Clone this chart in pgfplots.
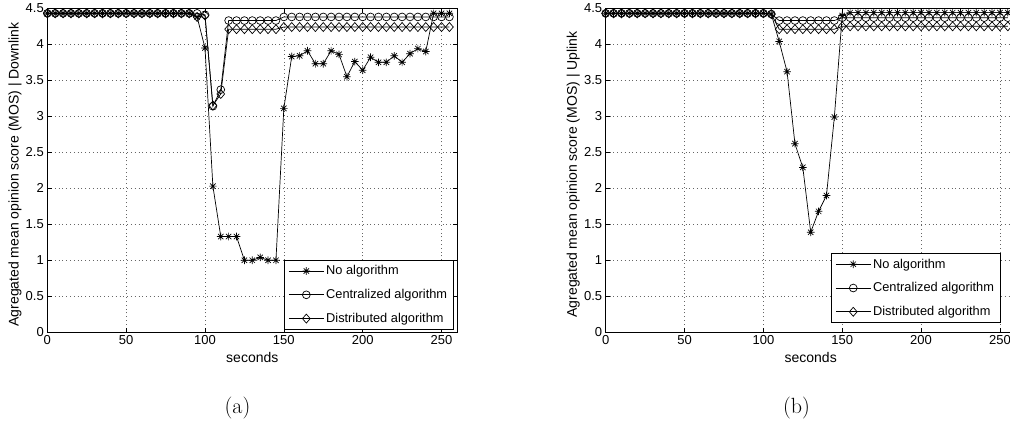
\documentclass[border=0pt]{standalone}
\usepackage{fontspec}
\usepackage{pgfplots}
\usepackage{pgfplotstable}
\pgfplotsset{compat=1.18}
\newfontfamily\arial{Liberation Sans}

% eight-spoke asterisk and square-proportioned diamond
\pgfdeclareplotmark{mstar}{%
  \pgfpathmoveto{\pgfpoint{-\pgfplotmarksize}{0pt}}\pgfpathlineto{\pgfpoint{\pgfplotmarksize}{0pt}}%
  \pgfpathmoveto{\pgfpoint{0pt}{-\pgfplotmarksize}}\pgfpathlineto{\pgfpoint{0pt}{\pgfplotmarksize}}%
  \pgfpathmoveto{\pgfpoint{-0.707\pgfplotmarksize}{-0.707\pgfplotmarksize}}\pgfpathlineto{\pgfpoint{0.707\pgfplotmarksize}{0.707\pgfplotmarksize}}%
  \pgfpathmoveto{\pgfpoint{-0.707\pgfplotmarksize}{0.707\pgfplotmarksize}}\pgfpathlineto{\pgfpoint{0.707\pgfplotmarksize}{-0.707\pgfplotmarksize}}%
  \pgfusepathqstroke}
\pgfdeclareplotmark{mdiam}{%
  \pgfpathmoveto{\pgfpoint{0pt}{1.15\pgfplotmarksize}}\pgfpathlineto{\pgfpoint{\pgfplotmarksize}{0pt}}%
  \pgfpathlineto{\pgfpoint{0pt}{-1.15\pgfplotmarksize}}\pgfpathlineto{\pgfpoint{-\pgfplotmarksize}{0pt}}%
  \pgfpathclose\pgfusepathqstroke}

% Downlink
\pgfplotstableread{
x noalg cent dist
0 4.43 4.43 4.43
5 4.43 4.43 4.43
10 4.43 4.43 4.43
15 4.43 4.43 4.43
20 4.43 4.43 4.43
25 4.43 4.43 4.43
30 4.43 4.43 4.43
35 4.43 4.43 4.43
40 4.43 4.43 4.43
45 4.43 4.43 4.43
50 4.43 4.43 4.43
55 4.43 4.43 4.43
60 4.43 4.43 4.43
65 4.43 4.43 4.43
70 4.43 4.43 4.43
75 4.43 4.43 4.43
80 4.43 4.43 4.43
85 4.43 4.43 4.43
90 4.43 4.43 4.43
95 4.38 4.43 4.38
100 3.95 4.41 4.40
105 2.03 3.14 3.15
110 1.33 3.37 3.31
115 1.33 4.33 4.21
120 1.33 4.33 4.21
125 1.00 4.33 4.21
130 1.00 4.33 4.21
135 1.04 4.33 4.21
140 1.00 4.33 4.21
145 1.00 4.33 4.21
150 3.11 4.38 4.24
155 3.83 4.38 4.24
160 3.84 4.38 4.24
165 3.91 4.38 4.24
170 3.73 4.38 4.24
175 3.73 4.38 4.24
180 3.91 4.38 4.24
185 3.86 4.38 4.24
190 3.55 4.38 4.24
195 3.76 4.38 4.24
200 3.64 4.38 4.24
205 3.82 4.38 4.24
210 3.75 4.38 4.24
215 3.75 4.38 4.24
220 3.84 4.38 4.24
225 3.75 4.38 4.24
230 3.87 4.38 4.24
235 3.94 4.38 4.24
240 3.90 4.38 4.24
245 4.43 4.38 4.24
250 4.43 4.38 4.24
255 4.43 4.38 4.24
}\downlink

% Uplink
\pgfplotstableread{
x noalg cent dist
0 4.43 4.43 4.43
5 4.43 4.43 4.43
10 4.43 4.43 4.43
15 4.43 4.43 4.43
20 4.43 4.43 4.43
25 4.43 4.43 4.43
30 4.43 4.43 4.43
35 4.43 4.43 4.43
40 4.43 4.43 4.43
45 4.43 4.43 4.43
50 4.43 4.43 4.43
55 4.43 4.43 4.43
60 4.43 4.43 4.43
65 4.43 4.43 4.43
70 4.43 4.43 4.43
75 4.43 4.43 4.43
80 4.43 4.43 4.43
85 4.43 4.43 4.43
90 4.43 4.43 4.43
95 4.43 4.43 4.43
100 4.43 4.43 4.43
105 4.42 4.42 4.42
110 4.04 4.33 4.21
115 3.62 4.33 4.21
120 2.62 4.33 4.21
125 2.29 4.33 4.21
130 1.39 4.33 4.21
135 1.68 4.33 4.21
140 1.90 4.33 4.21
145 2.99 4.33 4.21
150 4.40 4.37 4.25
155 4.44 4.37 4.25
160 4.44 4.37 4.25
165 4.44 4.37 4.25
170 4.44 4.37 4.25
175 4.44 4.37 4.25
180 4.44 4.37 4.25
185 4.44 4.37 4.25
190 4.44 4.37 4.25
195 4.44 4.37 4.25
200 4.44 4.37 4.25
205 4.44 4.37 4.25
210 4.44 4.37 4.25
215 4.44 4.37 4.25
220 4.44 4.37 4.25
225 4.44 4.37 4.25
230 4.44 4.37 4.25
235 4.44 4.37 4.25
240 4.44 4.37 4.25
245 4.44 4.37 4.25
250 4.44 4.37 4.25
255 4.44 4.37 4.25
}\uplink

\pgfplotsset{
  mos/.style={
    scale only axis, width=410pt, height=324pt,
    xmin=0, xmax=260, ymin=0, ymax=4.5,
    xtick={0,50,100,150,200,250},
    ytick={0,0.5,1,1.5,2,2.5,3,3.5,4,4.5},
    grid=major,
    major grid style={black!60, line width=0.5pt, dash pattern=on 0.8pt off 3pt},
    tick align=inside, major tick length=4.5pt,
    tick style={black, line width=0.6pt},
    axis line style={black, line width=0.9pt},
    tick label style={font=\arial\fontsize{13}{15}\selectfont},
    /pgf/number format/assume math mode=true,
    label style={font=\arial\fontsize{14}{16}\selectfont},
    xlabel={seconds},
    x label style={at={(axis description cs:0.5,-0.0775)}, anchor=center},
    y label style={at={(axis description cs:-0.0788,0.487)}, anchor=center},
    legend cell align=left,
    legend style={draw=black, line width=0.8pt, fill=white,
      font=\arial\fontsize{12.8}{14}\selectfont,
      inner xsep=4.5pt, inner ysep=3pt, row sep=9pt},
    legend image code/.code={%
      \draw[mark repeat=2, mark phase=2, #1]
        plot coordinates {(0pt,0pt) (17.5pt,0pt) (35pt,0pt)};},
    every axis plot/.append style={black, line width=0.7pt,
      mark options={solid, line width=0.7pt}},
  },
  noalg/.style={mark=mstar, mark size=3.8pt},
  cent/.style={mark=o, mark size=3.9pt},
  dist/.style={mark=mdiam, mark size=3.9pt},
}

\begin{document}
\begin{tikzpicture}
\begin{axis}[mos, at={(47.3pt,90.7pt)}, anchor=south west,
  ylabel={Agregated mean opinion score (MOS) | Downlink},
  legend style={at={(0.992,0.009)}, anchor=south east}]
\addplot[noalg] table[x=x, y=noalg] {\downlink};
\addplot[cent] table[x=x, y=cent] {\downlink};
\addplot[dist] table[x=x, y=dist] {\downlink};
\legend{No algorithm, Centralized algorithm, Distributed algorithm}
\end{axis}

\begin{axis}[mos, at={(605.7pt,90.7pt)}, anchor=south west,
  ylabel={Agregated mean opinion score (MOS) | Uplink},
  legend style={at={(0.964,0.03)}, anchor=south east}]
\addplot[noalg] table[x=x, y=noalg] {\uplink};
\addplot[cent] table[x=x, y=cent] {\uplink};
\addplot[dist] table[x=x, y=dist] {\uplink};
\legend{No algorithm, Centralized algorithm, Distributed algorithm}
\end{axis}

\node[font=\fontsize{22}{26}\selectfont] at (237.5pt,15.3pt) {(a)};
\node[font=\fontsize{22}{26}\selectfont] at (796.5pt,15.3pt) {(b)};

\pgfresetboundingbox
\path[use as bounding box] (0,0) rectangle (1010pt,423pt);
\end{tikzpicture}
\end{document}
